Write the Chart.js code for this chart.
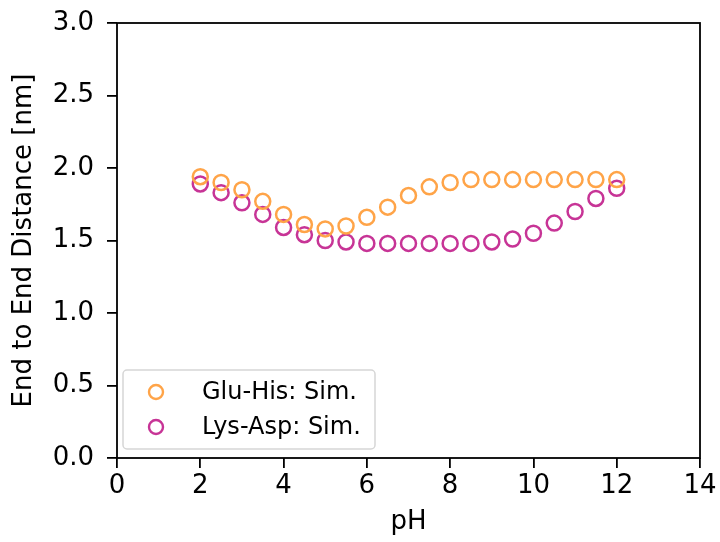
<!DOCTYPE html>
<html>
<head>
<meta charset="utf-8">
<script src="https://cdn.jsdelivr.net/npm/chart.js@4"></script>
<style>
  html, body { margin: 0; padding: 0; background: #fff; }
  #wrap { width: 720px; height: 542px; }
</style>
</head>
<body>
<div id="wrap"><canvas id="myChart" width="720" height="542"></canvas></div>
<script>
'use strict';

// 데이터
const phValues = [2, 2.5, 3, 3.5, 4, 4.5, 5, 5.5, 6, 6.5, 7, 7.5, 8, 8.5, 9, 9.5, 10, 10.5, 11, 11.5, 12];
const gluHis = [1.94, 1.90, 1.85, 1.77, 1.68, 1.61, 1.58, 1.60, 1.66, 1.73, 1.81, 1.87, 1.90, 1.92, 1.92, 1.92, 1.92, 1.92, 1.92, 1.92, 1.92];
const lysAsp = [1.89, 1.83, 1.76, 1.68, 1.59, 1.54, 1.50, 1.49, 1.48, 1.48, 1.48, 1.48, 1.48, 1.48, 1.49, 1.51, 1.55, 1.62, 1.70, 1.79, 1.86];
const seriesNames = ['Glu-His: Sim.', 'Lys-Asp: Sim.'];
const xTicks = [0, 2, 4, 6, 8, 10, 12, 14];
const yTicks = [0, 0.5, 1.0, 1.5, 2.0, 2.5, 3.0];

const orange = 'rgb(255,164,72)';
const magenta = 'rgb(199,52,150)';
const font = 'DejaVu Sans';

function toPoints(ys) {
    return phValues.map((x, i) => ({ x: x, y: ys[i] }));
}

// 테두리 + 범례
const framePlugin = {
    id: 'frame',
    afterDraw(chart) {
        const ctx = chart.ctx;
        const a = chart.chartArea;
        ctx.save();
        ctx.strokeStyle = '#000';
        ctx.lineWidth = 1.8;
        ctx.strokeRect(a.left, a.top, a.right - a.left, a.bottom - a.top);

        // legend box (왼쪽 아래)
        const lx = a.left + 6, ly = a.bottom - 88, lw = 252, lh = 79;
        ctx.fillStyle = 'rgba(255,255,255,0.8)';
        ctx.strokeStyle = '#d6d6d6';
        ctx.lineWidth = 1.5;
        ctx.beginPath();
        ctx.roundRect(lx, ly, lw, lh, 4);
        ctx.fill();
        ctx.stroke();
        ctx.font = '24px "' + font + '"';
        ctx.textBaseline = 'middle';
        chart.data.datasets.forEach((ds, i) => {
            const cy = ly + 22 + i * 35;
            ctx.beginPath();
            ctx.arc(lx + 33, cy, 7, 0, Math.PI * 2);
            ctx.strokeStyle = ds.borderColor;
            ctx.lineWidth = 2.4;
            ctx.stroke();
            ctx.fillStyle = '#000';
            ctx.fillText(ds.label, lx + 79, cy + 1);
        });
        ctx.restore();
    }
};

function makeDataset(label, ys, color) {
    return {
        label: label,
        data: toPoints(ys),
        showLine: false,
        borderColor: color,
        backgroundColor: 'rgba(0,0,0,0)',
        pointRadius: 7.5,
        pointBorderWidth: 2.5,
        pointHoverRadius: 7.5
    };
}

const config = {
    type: 'scatter',
    data: {
        datasets: [
            makeDataset(seriesNames[0], gluHis, orange),
            makeDataset(seriesNames[1], lysAsp, magenta)
        ]
    },
    options: {
        responsive: false,
        animation: false,
        layout: { padding: { top: 23, right: 20, left: 0, bottom: 0 } },
        plugins: { legend: { display: false }, tooltip: { enabled: false } },
        scales: {
            x: {
                type: 'linear',
                min: 0, max: 14,
                afterBuildTicks: (s) => { s.ticks = xTicks.map(v => ({ value: v })); },
                afterFit: (s) => { s.height = 84; s.paddingLeft = 0; s.paddingRight = 0; },
                grid: { drawOnChartArea: false, drawTicks: true, tickLength: 10, color: '#000', lineWidth: 1.8 },
                border: { display: false },
                ticks: { color: '#000', font: { family: font, size: 26 }, padding: 3, maxRotation: 0,
                    callback: (v) => String(v) },
                title: { display: true, text: 'pH', color: '#000', font: { family: font, size: 26 }, padding: { bottom: 4 } }
            },
            y: {
                type: 'linear',
                min: 0, max: 3,
                afterBuildTicks: (s) => { s.ticks = yTicks.map(v => ({ value: v })); },
                afterFit: (s) => { s.width = 117; s.paddingTop = 0; s.paddingBottom = 0; },
                grid: { drawOnChartArea: false, drawTicks: true, tickLength: 10, color: '#000', lineWidth: 1.8 },
                border: { display: false },
                ticks: { color: '#000', font: { family: font, size: 26 }, padding: 13,
                    callback: (v) => v.toFixed(1) },
                title: { display: true, text: 'End to End Distance [nm]', color: '#000', font: { family: font, size: 26 }, padding: { top: 9 } }
            }
        }
    },
    plugins: [framePlugin]
};

var myChart = new Chart(document.getElementById('myChart'), config);
</script>
</body>
</html>
